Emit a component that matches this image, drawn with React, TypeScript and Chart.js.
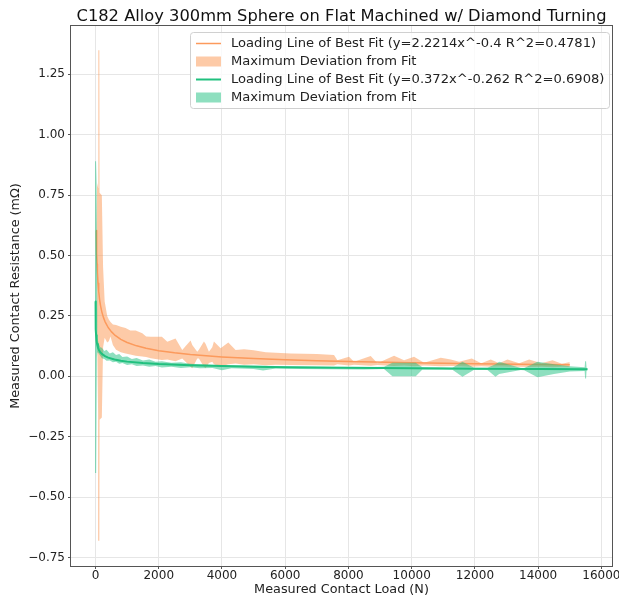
import React, { useEffect, useRef } from 'react';
import { Chart, registerables } from 'chart.js';

Chart.register(...registerables);

const FONT = '"DejaVu Sans", "Liberation Sans", sans-serif';

const TITLE = 'C182 Alloy 300mm Sphere on Flat Machined w/ Diamond Turning';
const X_LABEL = 'Measured Contact Load (N)';
const Y_LABEL = 'Measured Contact Resistance (mΩ)';
const LEGEND_LABELS = [
  'Loading Line of Best Fit (y=2.2214x^-0.4 R^2=0.4781)',
  'Maximum Deviation from Fit',
  'Loading Line of Best Fit (y=0.372x^-0.262 R^2=0.6908)',
  'Maximum Deviation from Fit',
];

const X_TICKS = [0, 2000, 4000, 6000, 8000, 10000, 12000, 14000, 16000];
const X_TICK_LABELS = ['0', '2000', '4000', '6000', '8000', '10000', '12000', '14000', '16000'];
const Y_TICKS = [-0.75, -0.5, -0.25, 0, 0.25, 0.5, 0.75, 1.0, 1.25];
const Y_TICK_LABELS = ['\u22120.75', '\u22120.50', '\u22120.25', '0.00', '0.25', '0.50', '0.75', '1.00', '1.25'];

// Orange: fit line
const orangeFitX = [26, 30, 35, 40, 50, 60, 80, 100, 130, 160, 200, 250, 300, 400, 500, 600, 800, 1000, 1300, 1600, 2000, 2500, 3000, 4000, 5000, 6000, 7000, 8000, 10000, 12000, 14000, 15000];
const orangeFitY = [0.6035, 0.5698, 0.5358, 0.5079, 0.4645, 0.4318, 0.3849, 0.3521, 0.317, 0.2917, 0.2668, 0.244, 0.2268, 0.2022, 0.185, 0.1719, 0.1533, 0.1402, 0.1262, 0.1162, 0.1062, 0.0972, 0.0903, 0.0805, 0.0736, 0.0684, 0.0644, 0.061, 0.0558, 0.0519, 0.0488, 0.0475];

// Orange: maximum deviation band
const orangeBandX = [26, 50, 82, 88, 122, 128, 200, 240, 290, 370, 420, 475, 550, 650, 800, 950, 1100, 1270, 1480, 1600, 1750, 2100, 2270, 2530, 2743, 3007, 3060, 3218, 3270, 3429, 3480, 3587, 3693, 3745, 3956, 4200, 4431, 4700, 5000, 5380, 5700, 6172, 7000, 7543, 7649, 8018, 8176, 8703, 8915, 9442, 9759, 10075, 10392, 10919, 11236, 11500, 11900, 12200, 12500, 12766, 13030, 13400, 13715, 14100, 14454, 14750, 14980, 15000];
const orangeBandUpper = [0.62, 0.8, 0.78, 1.35, 1.35, 0.76, 0.75, 0.45, 0.31, 0.25, 0.235, 0.225, 0.215, 0.212, 0.205, 0.2, 0.19, 0.19, 0.178, 0.165, 0.164, 0.164, 0.143, 0.157, 0.109, 0.148, 0.13, 0.102, 0.11, 0.144, 0.135, 0.102, 0.12, 0.144, 0.116, 0.14, 0.109, 0.112, 0.108, 0.1, 0.098, 0.095, 0.092, 0.088, 0.067, 0.081, 0.06, 0.084, 0.054, 0.085, 0.067, 0.081, 0.056, 0.077, 0.07, 0.06, 0.074, 0.054, 0.07, 0.054, 0.07, 0.054, 0.07, 0.054, 0.067, 0.052, 0.058, 0.067];
const orangeBandLower = [0.58, 0.2, -0.15, -0.68, -0.68, -0.18, -0.17, 0.12, 0.16, 0.14, 0.145, 0.165, 0.13, 0.11, 0.1, 0.095, 0.09, 0.085, 0.082, 0.08, 0.075, 0.068, 0.07, 0.062, 0.074, 0.04, 0.033, 0.074, 0.074, 0.04, 0.033, 0.055, 0.06, 0.05, 0.04, 0.05, 0.053, 0.048, 0.05, 0.046, 0.048, 0.047, 0.046, 0.045, 0.05, 0.045, 0.048, 0.044, 0.047, 0.043, 0.045, 0.042, 0.045, 0.042, 0.043, 0.042, 0.04, 0.042, 0.04, 0.041, 0.04, 0.04, 0.039, 0.04, 0.038, 0.04, 0.039, 0.039];

// Green: fit line
const greenFitX = [2, 3, 5, 8, 12, 20, 35, 50, 75, 100, 150, 200, 300, 400, 600, 800, 1000, 1500, 2000, 3000, 4000, 5000, 6000, 8000, 10000, 12000, 14000, 15560];
const greenFitY = [0.31, 0.279, 0.244, 0.2158, 0.194, 0.1697, 0.1466, 0.1335, 0.12, 0.1113, 0.1001, 0.0928, 0.0835, 0.0774, 0.0696, 0.0646, 0.0609, 0.0548, 0.0508, 0.0457, 0.0423, 0.0399, 0.0381, 0.0353, 0.0333, 0.0317, 0.0305, 0.0297];

// Green: maximum deviation band
const greenBandX = [-15, 18, 24, 45, 60, 100, 150, 200, 280, 350, 450, 550, 650, 750, 850, 1000, 1150, 1300, 1500, 1700, 1900, 2100, 2400, 2700, 3000, 3300, 3700, 4000, 4300, 5000, 5300, 5700, 6500, 7500, 8500, 9126, 9390, 10128, 10339, 11000, 11288, 11605, 11974, 12396, 12650, 12766, 13452, 13557, 13979, 14500, 15000, 15470, 15485, 15515, 15530, 15560];
const greenBandUpper = [0.89, 0.89, 0.815, 0.8, 0.16, 0.135, 0.12, 0.118, 0.105, 0.11, 0.095, 0.1, 0.088, 0.092, 0.08, 0.082, 0.072, 0.076, 0.066, 0.07, 0.06, 0.062, 0.056, 0.058, 0.052, 0.05, 0.048, 0.047, 0.046, 0.045, 0.044, 0.043, 0.041, 0.039, 0.038, 0.04, 0.056, 0.056, 0.038, 0.037, 0.036, 0.06, 0.036, 0.036, 0.05, 0.06, 0.035, 0.035, 0.06, 0.05, 0.042, 0.038, 0.062, 0.062, 0.036, 0.035];
const greenBandLower = [-0.4, -0.4, 0.05, 0.08, 0.1, 0.095, 0.085, 0.075, 0.072, 0.065, 0.066, 0.058, 0.06, 0.052, 0.055, 0.047, 0.05, 0.043, 0.045, 0.04, 0.043, 0.037, 0.04, 0.034, 0.038, 0.033, 0.035, 0.025, 0.033, 0.03, 0.024, 0.032, 0.03, 0.029, 0.028, 0.03, 0.0, 0.0, 0.028, 0.028, 0.027, -0.002, 0.027, 0.026, -0.002, 0.01, 0.026, 0.025, -0.004, 0.01, 0.02, 0.022, -0.009, -0.009, 0.024, 0.026];

const ORANGE_LINE = 'rgb(252,154,92)';
const ORANGE_FILL = 'rgba(252,150,80,0.5)';
const GREEN_LINE = 'rgb(32,192,126)';
const GREEN_FILL = 'rgba(30,192,128,0.5)';
const TEXT = '#222';
const GRID = '#e6e6e6';
const FRAME = '#555';

const pts = (xs: number[], ys: number[]) => xs.map((x, i) => ({ x, y: ys[i] }));

export default function App() {
  const ref = useRef<HTMLCanvasElement>(null);

  useEffect(() => {
    const canvas = ref.current;
    if (!canvas) return;

    const overlay = {
      id: 'overlay',
      afterDraw(chart: any) {
        const { ctx, chartArea: a } = chart;
        ctx.save();
        // frame
        ctx.strokeStyle = FRAME;
        ctx.lineWidth = 1;
        const l = Math.round(a.left), t = Math.round(a.top), r = Math.round(a.right), b = Math.round(a.bottom);
        ctx.strokeRect(l - 0.5, t - 0.5, r - l + 1, b - t + 1);
        // title
        ctx.fillStyle = '#111';
        ctx.font = `16.3px ${FONT}`;
        ctx.textAlign = 'center';
        ctx.textBaseline = 'alphabetic';
        ctx.fillText(TITLE, (a.left + a.right) / 2, 21);
        // legend
        const boxL = 190, boxR = 609, boxT = 32, boxB = 108;
        ctx.beginPath();
        (ctx as any).roundRect(boxL + 0.5, boxT + 0.5, boxR - boxL, boxB - boxT, 3);
        ctx.fillStyle = 'rgba(255,255,255,0.8)';
        ctx.fill();
        ctx.strokeStyle = '#d0d0d0';
        ctx.stroke();
        const rows = [43.5, 61.5, 79.5, 97.5];
        const hx0 = 196, hx1 = 221;
        ctx.strokeStyle = ORANGE_LINE;
        ctx.lineWidth = 1.5;
        ctx.beginPath(); ctx.moveTo(hx0, rows[0]); ctx.lineTo(hx1, rows[0]); ctx.stroke();
        ctx.fillStyle = ORANGE_FILL;
        ctx.fillRect(hx0, rows[1] - 5, hx1 - hx0, 10);
        ctx.strokeStyle = GREEN_LINE;
        ctx.lineWidth = 2;
        ctx.beginPath(); ctx.moveTo(hx0, rows[2]); ctx.lineTo(hx1, rows[2]); ctx.stroke();
        ctx.fillStyle = GREEN_FILL;
        ctx.fillRect(hx0, rows[3] - 5, hx1 - hx0, 10);
        ctx.fillStyle = TEXT;
        ctx.font = `13.1px ${FONT}`;
        ctx.textAlign = 'left';
        ctx.textBaseline = 'middle';
        LEGEND_LABELS.forEach((s, i) => ctx.fillText(s, 231, rows[i] + 0.5));
        ctx.restore();
      },
    };

    const hidden = 'rgba(0,0,0,0)';
    const chart = new Chart(canvas, {
      type: 'line',
      data: {
        datasets: [
          { label: 'orange lower', data: pts(orangeBandX, orangeBandLower), borderColor: hidden, borderWidth: 0, pointRadius: 0, fill: false, order: 6 },
          { label: LEGEND_LABELS[1], data: pts(orangeBandX, orangeBandUpper), borderColor: hidden, borderWidth: 0, pointRadius: 0, fill: '-1', backgroundColor: ORANGE_FILL, order: 5 },
          { label: LEGEND_LABELS[0], data: pts(orangeFitX, orangeFitY), borderColor: ORANGE_LINE, borderWidth: 1.5, pointRadius: 0, fill: false, order: 4 },
          { label: 'green lower', data: pts(greenBandX, greenBandLower), borderColor: hidden, borderWidth: 0, pointRadius: 0, fill: false, order: 3 },
          { label: LEGEND_LABELS[3], data: pts(greenBandX, greenBandUpper), borderColor: hidden, borderWidth: 0, pointRadius: 0, fill: '-1', backgroundColor: GREEN_FILL, order: 2 },
          { label: LEGEND_LABELS[2], data: pts(greenFitX, greenFitY), borderColor: GREEN_LINE, borderWidth: 2, pointRadius: 0, fill: false, order: 1 },
        ] as any,
      },
      options: {
        responsive: false,
        devicePixelRatio: 1,
        animation: false,
        layout: { padding: { top: 26, right: 7, bottom: 0, left: 0 } },
        elements: { line: { tension: 0, borderJoinStyle: 'round' } },
        plugins: {
          legend: { display: false },
          title: { display: false },
          tooltip: { enabled: false },
        },
        scales: {
          x: {
            type: 'linear',
            min: -775,
            max: 16335,
            bounds: 'data',
            afterBuildTicks: (s: any) => { s.ticks = X_TICKS.map((v) => ({ value: v })); },
            afterFit: (s: any) => { s.height = 33; s.paddingLeft = 0; s.paddingRight = 0; },
            ticks: {
              autoSkip: false,
              maxRotation: 0,
              padding: 0,
              color: TEXT,
              font: { family: FONT, size: 12 },
              callback: (_v: any, i: number) => X_TICK_LABELS[i],
            },
            grid: { color: GRID, lineWidth: 1, drawTicks: true, tickLength: 3, tickColor: FRAME, tickWidth: 1 },
            border: { display: false },
            title: { display: true, text: X_LABEL, color: TEXT, font: { family: FONT, size: 12.8 }, padding: { top: 0, bottom: 1.3 } },
          },
          y: {
            type: 'linear',
            min: -0.785,
            max: 1.45,
            bounds: 'data',
            afterBuildTicks: (s: any) => { s.ticks = Y_TICKS.map((v) => ({ value: v })); },
            afterFit: (s: any) => { s.width = 71; s.paddingTop = 0; s.paddingBottom = 0; },
            ticks: {
              autoSkip: false,
              padding: 3,
              color: TEXT,
              font: { family: FONT, size: 12 },
              callback: (_v: any, i: number) => Y_TICK_LABELS[i],
            },
            grid: { color: GRID, lineWidth: 1, drawTicks: true, tickLength: 3, tickColor: FRAME, tickWidth: 1 },
            border: { display: false },
            title: { display: true, text: Y_LABEL, color: TEXT, font: { family: FONT, size: 12.8 }, padding: { top: 7.5, bottom: 0 } },
          },
        },
      } as any,
      plugins: [overlay],
    });

    return () => chart.destroy();
  }, []);

  return (
    <div style={{ position: 'absolute', left: 0, top: 0, width: 619, height: 599, background: '#fff' }}>
      <canvas ref={ref} width={619} height={599} style={{ display: 'block', width: 619, height: 599 }} />
    </div>
  );
}
